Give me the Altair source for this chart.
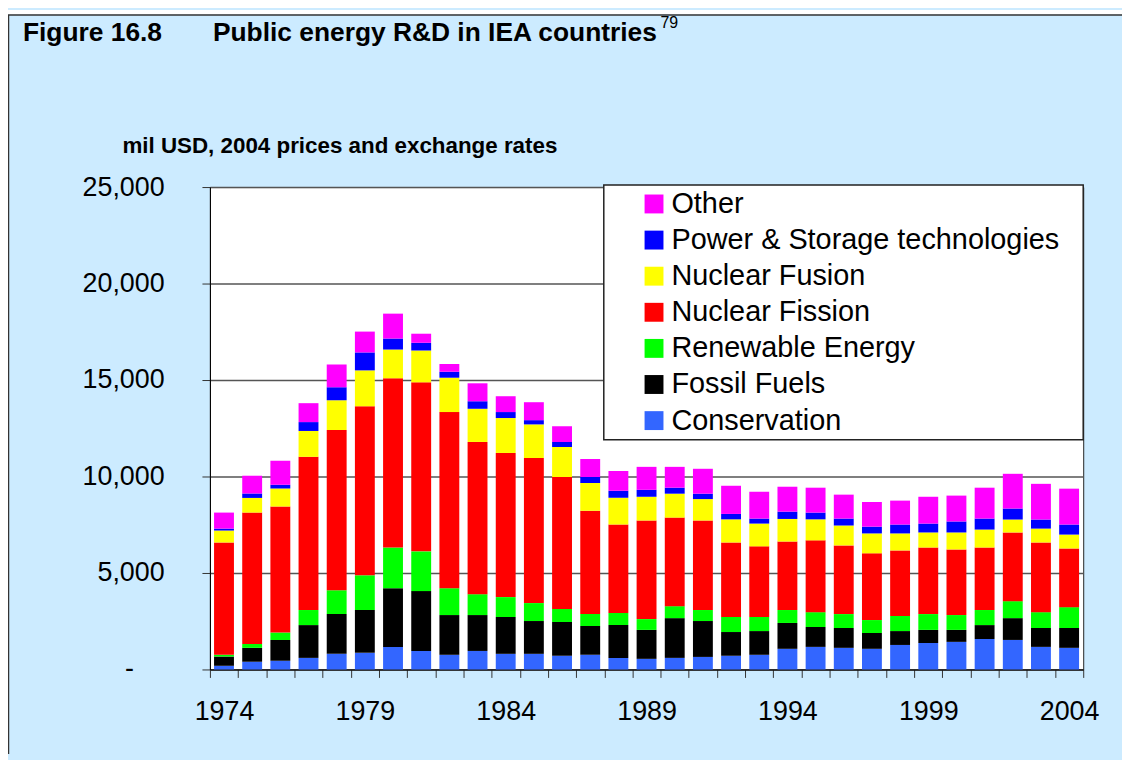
import altair as alt
import pandas as pd

years = list(range(1974, 2005))

categories = ["Other", "Power & Storage technologies", "Nuclear Fusion",
              "Nuclear Fission", "Renewable Energy", "Fossil Fuels", "Conservation"]
colors = ["#FF00FF", "#0000FF", "#FFFF00", "#FF0000", "#00FF00", "#000000", "#3366FF"]

conservation = [190, 400, 450, 600, 810, 860, 1170, 960, 760, 960, 810, 810, 710, 760, 600,
                550, 600, 650, 710, 760, 1070, 1170, 1120, 1070, 1270, 1370, 1430, 1580, 1530,
                1170, 1120]
fossil = [480, 720, 1080, 1700, 2060, 2220, 3040, 3100, 2060, 1860, 1910, 1700, 1750, 1490, 1700,
          1500, 2060, 1860, 1230, 1230, 1340, 1030, 1030, 820, 720, 680, 620, 720, 1130, 980, 1030]
renewable = [90, 200, 380, 780, 1240, 1800, 2110, 2060, 1390, 1080, 1030, 930, 670, 620, 620,
             560, 620, 570, 780, 730, 670, 770, 720, 670, 780, 820, 770, 780, 880, 820, 1080]
fission = [5820, 6810, 6530, 7940, 8300, 8760, 8770, 8760, 9130, 7890, 7470, 7520, 6850, 5360, 4590,
           5110, 4590, 4640, 3860, 3660, 3550, 3720, 3560, 3460, 3400, 3450, 3400, 3240, 3560, 3610,
           3040]
fusion = [620, 760, 940, 1340, 1540, 1860, 1490, 1650, 1780, 1720, 1810, 1740, 1550, 1430, 1390,
          1230, 1240, 1110, 1200, 1180, 1170, 1090, 1030, 1030, 880, 780, 880, 930, 670, 720, 720]
power = [100, 230, 190, 460, 670, 930, 570, 400, 310, 390, 310, 220, 260, 320, 360,
         360, 310, 280, 280, 260, 380, 350, 360, 350, 460, 460, 570, 570, 570, 470, 520]
other = [830, 920, 1240, 980, 1190, 1080, 1290, 470, 400, 930, 820, 930, 820, 930, 1030,
         1190, 1080, 1290, 1460, 1390, 1290, 1290, 1240, 1280, 1240, 1390, 1340, 1600, 1800, 1850,
         1860]

y_ticks = [0, 5000, 10000, 15000, 20000, 25000]

series = {
    "Conservation": conservation,
    "Fossil Fuels": fossil,
    "Renewable Energy": renewable,
    "Nuclear Fission": fission,
    "Nuclear Fusion": fusion,
    "Power & Storage technologies": power,
    "Other": other,
}
stack_order = list(series.keys())

rows = []
for i, cat in enumerate(stack_order):
    for yr, v in zip(years, series[cat]):
        rows.append({"year": str(yr), "category": cat, "value": v, "order": i})
df = pd.DataFrame(rows)

FONT = "Liberation Sans"
one = pd.DataFrame({"a": [0]})

bars = alt.Chart(df).mark_bar(width=alt.RelativeBandSize(0.706)).encode(
    x=alt.X("year:O",
            scale=alt.Scale(paddingInner=0, paddingOuter=0),
            axis=alt.Axis(title=None, labelAngle=0, labelOverlap=False,
                          labelExpr="(toNumber(datum.value) - 1974) % 5 == 0 ? datum.value : ''",
                          tickBand="extent", tickSize=8, tickColor="#333", tickWidth=1,
                          labelPadding=21, labelFontSize=27, labelFont=FONT, labelColor="black",
                          domainColor="black", domainWidth=1, grid=False)),
    y=alt.Y("value:Q", stack="zero",
            scale=alt.Scale(domain=[0, 25000], nice=False),
            axis=alt.Axis(title=None, values=y_ticks,
                          labelExpr="datum.value == 0 ? '' : format(datum.value, ',')",
                          grid=True, gridColor="#555", gridWidth=1.5,
                          tickSize=8, tickColor="#333", labelPadding=38,
                          labelFontSize=27, labelFont=FONT, labelColor="black",
                          domainColor="black", domainWidth=1)),
    color=alt.Color("category:N",
                    scale=alt.Scale(domain=categories, range=colors),
                    legend=alt.Legend(orient="none", legendX=432, legendY=2.5, title=None,
                                      symbolType="square", symbolSize=361, symbolStrokeWidth=0,
                                      labelFontSize=29, labelFont=FONT, labelColor="black",
                                      rowPadding=6.3, padding=0, labelOffset=3, labelLimit=700,
                                      direction="vertical")),
    order=alt.Order("order:Q", sort="ascending"),
)

zero_label = alt.Chart(one).mark_text(text="-", font=FONT, fontSize=27, align="center",
                                      baseline="middle", color="black").encode(
    x=alt.value(-81), y=alt.datum(0))

legend_box = alt.Chart(one).mark_rect(fill="white", stroke="#222", strokeWidth=1.5).encode(
    x=alt.value(396), x2=alt.value(878), y=alt.value(-2), y2=alt.value(254))

white_strip = alt.Chart(one).mark_rect(fill="white").encode(
    x=alt.value(-203), x2=alt.value(920), y=alt.value(-178), y2=alt.value(-173.5))
frame_top = alt.Chart(one).mark_rule(color="#333", strokeWidth=1.5).encode(
    x=alt.value(-203), x2=alt.value(920), y=alt.value(-173))
frame_left = alt.Chart(one).mark_rule(color="#333", strokeWidth=1.5).encode(
    x=alt.value(-202.5), y=alt.value(-173), y2=alt.value(570))

fig_label = alt.Chart(one).mark_text(text="Figure 16.8", font=FONT, fontSize=26.5, fontWeight="bold",
                                     align="left", baseline="alphabetic", color="black").encode(
    x=alt.value(-188), y=alt.value(-147))
fig_title = alt.Chart(one).mark_text(text="Public energy R&D in IEA countries", font=FONT,
                                     fontSize=26.5, fontWeight="bold", align="left",
                                     baseline="alphabetic", color="black").encode(
    x=alt.value(3), y=alt.value(-147))
fig_sup = alt.Chart(one).mark_text(text="79", font=FONT, fontSize=16, align="left",
                                   baseline="alphabetic", color="black").encode(
    x=alt.value(453), y=alt.value(-160))
y_title = alt.Chart(one).mark_text(text="mil USD, 2004 prices and exchange rates", font=FONT,
                                   fontSize=22.5, fontWeight="bold", align="left",
                                   baseline="alphabetic", color="black").encode(
    x=alt.value(-88), y=alt.value(-34))

chart = alt.layer(
    white_strip, frame_top, frame_left, fig_label, fig_title, fig_sup, y_title, bars,
    zero_label, legend_box
).properties(
    width=878, height=485,
    padding={"left": 203, "top": 178, "right": 39, "bottom": 89},
    autosize=alt.AutoSizeParams(type="none"),
).configure(
    background="#CCEBFF",
).configure_view(
    fill="white", stroke="#222", strokeWidth=1,
)

chart.save("out.html", embed_options={"renderer": "svg", "actions": False})
